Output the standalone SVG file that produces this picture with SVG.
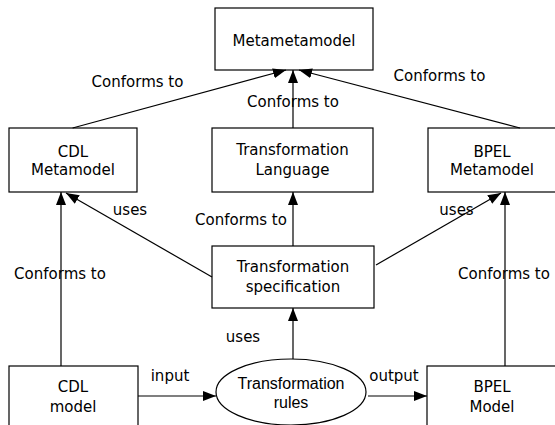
<svg xmlns="http://www.w3.org/2000/svg" width="555" height="425" viewBox="0 0 555 425">
  <style>
    .box { fill: #fff; stroke: #000; stroke-width: 1.2; }
    .lbl { font-family: "DejaVu Sans", sans-serif; font-size: 15px; fill: #000; text-anchor: middle; }
    .rule { font-family: "Liberation Sans", Arial, sans-serif; font-size: 16px; fill: #000; text-anchor: middle; }
    .edge { stroke: #000; stroke-width: 1.2; fill: none; marker-end: url(#arrow); }
  </style>
  <defs>
    <marker id="arrow" markerUnits="userSpaceOnUse" markerWidth="13" markerHeight="10" refX="13" refY="5" orient="auto">
      <path d="M0,0 L13,5 L0,10 z" fill="#000"/>
    </marker>
  </defs>
  <rect width="555" height="425" fill="#fff"/>

  <!-- nodes -->
  <g id="metametamodel">
    <rect class="box" x="215" y="8" width="158" height="62"/>
    <text class="lbl" x="294" y="46">Metametamodel</text>
  </g>
  <g id="cdl-metamodel">
    <rect class="box" x="9" y="128" width="128" height="64"/>
    <text class="lbl" x="73" y="157">CDL</text>
    <text class="lbl" x="73" y="175">Metamodel</text>
  </g>
  <g id="transformation-language">
    <rect class="box" x="212" y="128" width="161" height="64"/>
    <text class="lbl" x="292.5" y="155">Transformation</text>
    <text class="lbl" x="292.5" y="175">Language</text>
  </g>
  <g id="bpel-metamodel">
    <rect class="box" x="428" y="128" width="130" height="64"/>
    <text class="lbl" x="492" y="157">BPEL</text>
    <text class="lbl" x="492" y="175">Metamodel</text>
  </g>
  <g id="transformation-specification">
    <rect class="box" x="212" y="246" width="162" height="62"/>
    <text class="lbl" x="293" y="272">Transformation</text>
    <text class="lbl" x="293" y="292">specification</text>
  </g>
  <g id="cdl-model">
    <rect class="box" x="9" y="366" width="129" height="70"/>
    <text class="lbl" x="73" y="392">CDL</text>
    <text class="lbl" x="73" y="412">model</text>
  </g>
  <g id="transformation-rules">
    <ellipse class="box" cx="291" cy="392" rx="75" ry="33"/>
    <text class="rule" x="291" y="389">Transformation</text>
    <text class="rule" x="291" y="408">rules</text>
  </g>
  <g id="bpel-model">
    <rect class="box" x="427" y="366" width="131" height="70"/>
    <text class="lbl" x="492" y="392">BPEL</text>
    <text class="lbl" x="492" y="412">Model</text>
  </g>

  <!-- connectors -->
  <g id="connectors">
    <line class="edge" x1="72.6" y1="128" x2="286" y2="70"/>
    <line class="edge" x1="293" y1="128" x2="293" y2="70"/>
    <line class="edge" x1="520" y1="128" x2="299" y2="70"/>
    <line class="edge" x1="212" y1="277" x2="66" y2="193"/>
    <line class="edge" x1="293" y1="246" x2="293" y2="192"/>
    <line class="edge" x1="376" y1="265" x2="501" y2="193"/>
    <line class="edge" x1="61" y1="366" x2="61" y2="192"/>
    <line class="edge" x1="505" y1="366" x2="505" y2="192"/>
    <line class="edge" x1="293" y1="359" x2="293" y2="308"/>
    <line class="edge" x1="138" y1="396" x2="216" y2="396"/>
    <line class="edge" x1="368" y1="396" x2="427" y2="396"/>

    <text class="lbl" x="137.5" y="87">Conforms to</text>
    <text class="lbl" x="293" y="107">Conforms to</text>
    <text class="lbl" x="439.5" y="81">Conforms to</text>
    <text class="lbl" x="130" y="215">uses</text>
    <text class="lbl" x="241" y="225">Conforms to</text>
    <text class="lbl" x="456.5" y="215">uses</text>
    <text class="lbl" x="60" y="279">Conforms to</text>
    <text class="lbl" x="504" y="279">Conforms to</text>
    <text class="lbl" x="243" y="342">uses</text>
    <text class="lbl" x="170" y="381">input</text>
    <text class="lbl" x="394" y="381">output</text>
  </g>
</svg>
